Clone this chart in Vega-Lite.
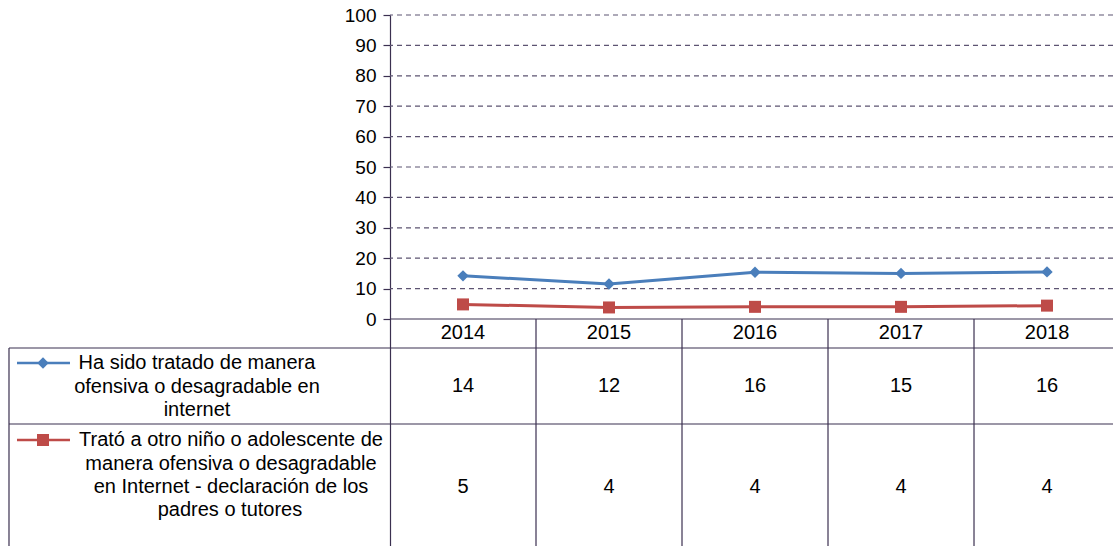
{
  "$schema": "https://vega.github.io/schema/vega-lite/v6.json",
  "width": 723,
  "height": 531,
  "autosize": {"type": "none"},
  "padding": {"left": 390, "top": 15, "right": 0, "bottom": 0},
  "background": "white",
  "config": {"view": {"stroke": null}, "text": {"font": "Liberation Sans", "fontSize": 20, "color": "#000000"}},
  "datasets": {
    "series": [
      {"pos": 0.5, "year": "2014", "serie": "A", "value": 14.2},
      {"pos": 1.5, "year": "2015", "serie": "A", "value": 11.5},
      {"pos": 2.5, "year": "2016", "serie": "A", "value": 15.4},
      {"pos": 3.5, "year": "2017", "serie": "A", "value": 15.0},
      {"pos": 4.5, "year": "2018", "serie": "A", "value": 15.5},
      {"pos": 0.5, "year": "2014", "serie": "B", "value": 4.8},
      {"pos": 1.5, "year": "2015", "serie": "B", "value": 3.8},
      {"pos": 2.5, "year": "2016", "serie": "B", "value": 4.0},
      {"pos": 3.5, "year": "2017", "serie": "B", "value": 4.0},
      {"pos": 4.5, "year": "2018", "serie": "B", "value": 4.4}
    ],
    "grid": [{"v": 10}, {"v": 20}, {"v": 30}, {"v": 40}, {"v": 50}, {"v": 60}, {"v": 70}, {"v": 80}, {"v": 90}, {"v": 100}],
    "hlines": [
      {"y": 0, "x1": 0, "x2": 4.952},
      {"y": -9.54, "x1": -2.6096, "x2": 4.952},
      {"y": -34.54, "x1": -2.6096, "x2": 4.952}
    ],
    "vlines": [
      {"x": -2.6096, "y1": -9.54, "y2": -74.67},
      {"x": 1, "y1": 0, "y2": -74.67},
      {"x": 2, "y1": 0, "y2": -74.67},
      {"x": 3, "y1": 0, "y2": -74.67},
      {"x": 4, "y1": 0, "y2": -74.67}
    ],
    "cells": [
      {"x": 0.5, "y": -4.7, "t": "2014"},
      {"x": 1.5, "y": -4.7, "t": "2015"},
      {"x": 2.5, "y": -4.7, "t": "2016"},
      {"x": 3.5, "y": -4.7, "t": "2017"},
      {"x": 4.5, "y": -4.7, "t": "2018"},
      {"x": 0.5, "y": -21.9, "t": "14"},
      {"x": 1.5, "y": -21.9, "t": "12"},
      {"x": 2.5, "y": -21.9, "t": "16"},
      {"x": 3.5, "y": -21.9, "t": "15"},
      {"x": 4.5, "y": -21.9, "t": "16"},
      {"x": 0.5, "y": -55.2, "t": "5"},
      {"x": 1.5, "y": -55.2, "t": "4"},
      {"x": 2.5, "y": -55.2, "t": "4"},
      {"x": 3.5, "y": -55.2, "t": "4"},
      {"x": 4.5, "y": -55.2, "t": "4"},
      {"x": -1.3219, "y": -14.47, "t": "Ha sido tratado de manera"},
      {"x": -1.3219, "y": -22.37, "t": "ofensiva o desagradable en"},
      {"x": -1.3219, "y": -29.93, "t": "internet"},
      {"x": -1.089, "y": -39.8, "t": "Trató a otro niño o adolescente de"},
      {"x": -1.089, "y": -47.7, "t": "manera ofensiva o desagradable"},
      {"x": -1.089, "y": -55.26, "t": "en Internet - declaración de los"},
      {"x": -1.096, "y": -62.83, "t": "padres o tutores"}
    ],
    "keyline": [
      {"serie": "A", "x": -2.5548, "y": -14.47},
      {"serie": "A", "x": -2.1918, "y": -14.47},
      {"serie": "B", "x": -2.5548, "y": -39.8},
      {"serie": "B", "x": -2.1918, "y": -39.8}
    ],
    "keypoint": [
      {"serie": "A", "x": -2.3767, "y": -14.47},
      {"serie": "B", "x": -2.3767, "y": -39.8}
    ]
  },
  "layer": [
    {
      "data": {"name": "grid"},
      "mark": {"type": "rule", "color": "#5d5472", "strokeDash": [5, 4], "strokeWidth": 1.2},
      "encoding": {
        "y": {
          "field": "v", "type": "quantitative",
          "scale": {"domain": [-74.67, 100], "nice": false, "zero": false},
          "axis": {
            "values": [0, 10, 20, 30, 40, 50, 60, 70, 80, 90, 100],
            "title": null, "grid": false,
            "labelFont": "Liberation Sans", "labelFontSize": 19, "labelColor": "#000000",
            "tickSize": 7, "tickColor": "#3b3050", "domainColor": "#3b3050", "domainWidth": 1.2, "tickWidth": 1.2,
            "labelPadding": 7, "labelFlush": false, "labelOverlap": false
          }
        }
      }
    },
    {
      "data": {"name": "hlines"},
      "mark": {"type": "rule", "color": "#3b3050", "strokeWidth": 1.2},
      "encoding": {
        "y": {"field": "y", "type": "quantitative"},
        "x": {"field": "x1", "type": "quantitative", "scale": {"domain": [0, 4.952], "nice": false, "zero": false}, "axis": null},
        "x2": {"field": "x2"}
      }
    },
    {
      "data": {"name": "vlines"},
      "mark": {"type": "rule", "color": "#3b3050", "strokeWidth": 1.2},
      "encoding": {
        "x": {"field": "x", "type": "quantitative"},
        "y": {"field": "y1", "type": "quantitative"},
        "y2": {"field": "y2"}
      }
    },
    {
      "data": {"name": "cells"},
      "mark": {"type": "text", "align": "center", "baseline": "middle"},
      "encoding": {
        "x": {"field": "x", "type": "quantitative"},
        "y": {"field": "y", "type": "quantitative"},
        "text": {"field": "t", "type": "nominal"}
      }
    },
    {
      "data": {"name": "keyline"},
      "mark": {"type": "line", "strokeWidth": 2.5},
      "encoding": {
        "x": {"field": "x", "type": "quantitative"},
        "y": {"field": "y", "type": "quantitative"},
        "color": {"field": "serie", "type": "nominal", "scale": {"domain": ["A", "B"], "range": ["#4a7ebb", "#be4b48"]}, "legend": null}
      }
    },
    {
      "data": {"name": "keypoint"},
      "mark": {"type": "point", "filled": true, "opacity": 1},
      "encoding": {
        "x": {"field": "x", "type": "quantitative"},
        "y": {"field": "y", "type": "quantitative"},
        "color": {"field": "serie", "type": "nominal", "legend": null},
        "shape": {"field": "serie", "type": "nominal", "scale": {"domain": ["A", "B"], "range": ["diamond", "square"]}, "legend": null},
        "size": {"field": "serie", "type": "nominal", "scale": {"domain": ["A", "B"], "range": [130, 144]}, "legend": null}
      }
    },
    {
      "data": {"name": "series"},
      "mark": {"type": "line", "strokeWidth": 3},
      "encoding": {
        "x": {"field": "pos", "type": "quantitative"},
        "y": {"field": "value", "type": "quantitative"},
        "color": {"field": "serie", "type": "nominal", "legend": null}
      }
    },
    {
      "data": {"name": "series"},
      "mark": {"type": "point", "filled": true, "opacity": 1},
      "encoding": {
        "x": {"field": "pos", "type": "quantitative"},
        "y": {"field": "value", "type": "quantitative"},
        "color": {"field": "serie", "type": "nominal", "legend": null},
        "shape": {"field": "serie", "type": "nominal", "legend": null},
        "size": {"field": "serie", "type": "nominal", "scale": {"domain": ["A", "B"], "range": [250, 225]}, "legend": null}
      }
    }
  ]
}
